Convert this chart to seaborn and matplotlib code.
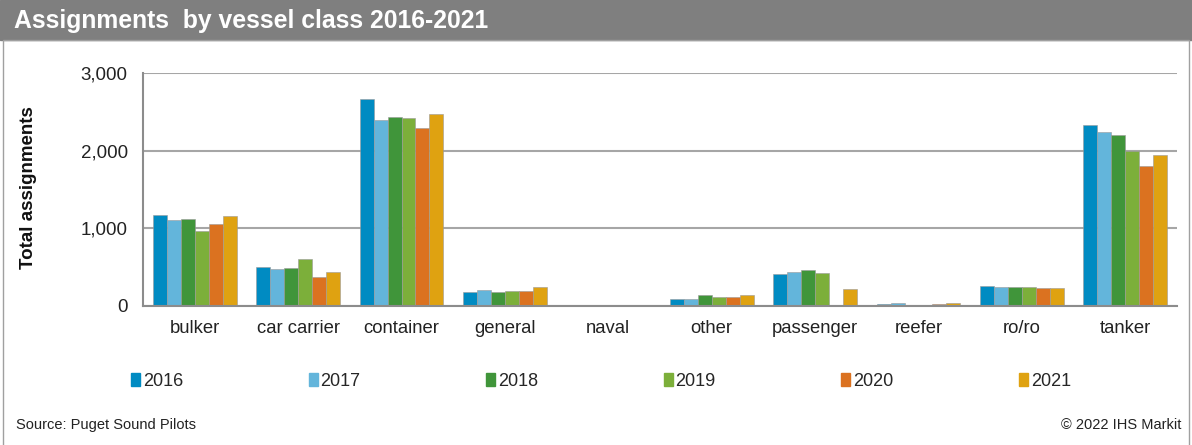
import matplotlib
matplotlib.use("Agg")
import matplotlib.pyplot as plt
import seaborn as sns
import pandas as pd
from matplotlib.patches import Rectangle

categories = ["bulker", "car carrier", "container", "general", "naval", "other",
              "passenger", "reefer", "ro/ro", "tanker"]
years = ["2016", "2017", "2018", "2019", "2020", "2021"]
v2016 = [1167, 508, 2668, 177, 0, 86, 409, 22, 254, 2333]
v2017 = [1102, 470, 2393, 203, 0, 86, 435, 35, 241, 2238]
v2018 = [1123, 483, 2432, 177, 0, 147, 461, 0, 241, 2199]
v2019 = [960, 607, 2419, 190, 0, 112, 422, 0, 241, 1993]
v2020 = [1058, 370, 2290, 190, 0, 112, 0, 22, 228, 1807]
v2021 = [1154, 435, 2475, 250, 0, 138, 224, 35, 228, 1949]
colors = ["#008BC2", "#63B5DB", "#40953A", "#7CAF3A", "#DB7220", "#DFA211"]

series = [v2016, v2017, v2018, v2019, v2020, v2021]
rows = []
for y, vals in zip(years, series):
    for c, v in zip(categories, vals):
        rows.append({"category": c, "year": y, "value": v})
df = pd.DataFrame(rows)

sns.set_theme(style="white")
plt.rcParams["font.family"] = ["Liberation Sans", "DejaVu Sans"]

W, H = 1192, 445
fig = plt.figure(figsize=(W / 100, H / 100), dpi=100)
ax = fig.add_axes([143 / W, 1 - 306 / H, (1177 - 143) / W, (306 - 73) / H])

sns.barplot(data=df, x="category", y="value", hue="year", hue_order=years,
            palette=colors, width=0.81, gap=0, ax=ax, saturation=1,
            edgecolor="#9a9a9a", linewidth=0.4, errorbar=None)

ax.set_ylim(0, 3000)
ax.set_xlim(-0.5, 9.5)
ax.set_yticks([0, 1000, 2000, 3000])
ax.set_yticklabels(["0", "1,000", "2,000", "3,000"], fontsize=13.5, color="#222222")
ax.yaxis.grid(True, color="#A6A6A6", linewidth=1.5)
ax.set_axisbelow(True)
ax.set_xlabel("")
ax.set_ylabel("Total assignments", fontsize=13.5, fontweight="bold", color="#111111")
ax.yaxis.set_label_coords((37 - 143) / 1034, 0.51)
ax.tick_params(axis="x", which="major", length=0, labelsize=13.3, pad=10, labelcolor="#222222")
ax.set_xticks([i - 0.5 for i in range(11)], minor=True)
ax.tick_params(axis="x", which="minor", length=6, width=1.5, color="#8c8c8c", direction="out")
ax.tick_params(axis="y", length=5, width=1.5, color="#8c8c8c", direction="out", pad=6)
for side in ["top", "right"]:
    ax.spines[side].set_visible(False)
for side in ["left", "bottom"]:
    ax.spines[side].set_color("#8c8c8c")
    ax.spines[side].set_linewidth(1.5)

ax.legend_.remove()
handles = [Rectangle((0, 0), 1, 1, color=c) for c in colors]
fig.legend(handles, years, loc="center left", ncol=6, mode="expand",
           bbox_to_anchor=(124 / W, 1 - 395 / H, (1078 - 124) / W, 28 / H),
           frameon=False, fontsize=13, handlelength=0.5, handleheight=0.7,
           handletextpad=0.15, borderaxespad=0)

# title bar
fig.patches.append(Rectangle((0, 1 - 40 / H), 1, 40 / H, transform=fig.transFigure,
                             color="#7F7F7F", zorder=0))
fig.patches.append(Rectangle((3 / W, -0.01), (W - 6) / W, 1 - 40 / H + 0.01, transform=fig.transFigure,
                             fill=False, edgecolor="#A0A0A0", linewidth=1, zorder=0))
fig.text(14 / W, 1 - 21 / H, "Assignments  by vessel class 2016-2021", color="white",
         fontsize=17.8, fontweight="bold", va="center", ha="left")
fig.text(16 / W, 1 - 425 / H, "Source: Puget Sound Pilots", fontsize=10.5, va="center", ha="left",
         color="#222222")
fig.text(1181 / W, 1 - 425 / H, "\u00a9 2022 IHS Markit", fontsize=10.5, va="center", ha="right",
         color="#222222")

fig.savefig("out.png", dpi=100)
